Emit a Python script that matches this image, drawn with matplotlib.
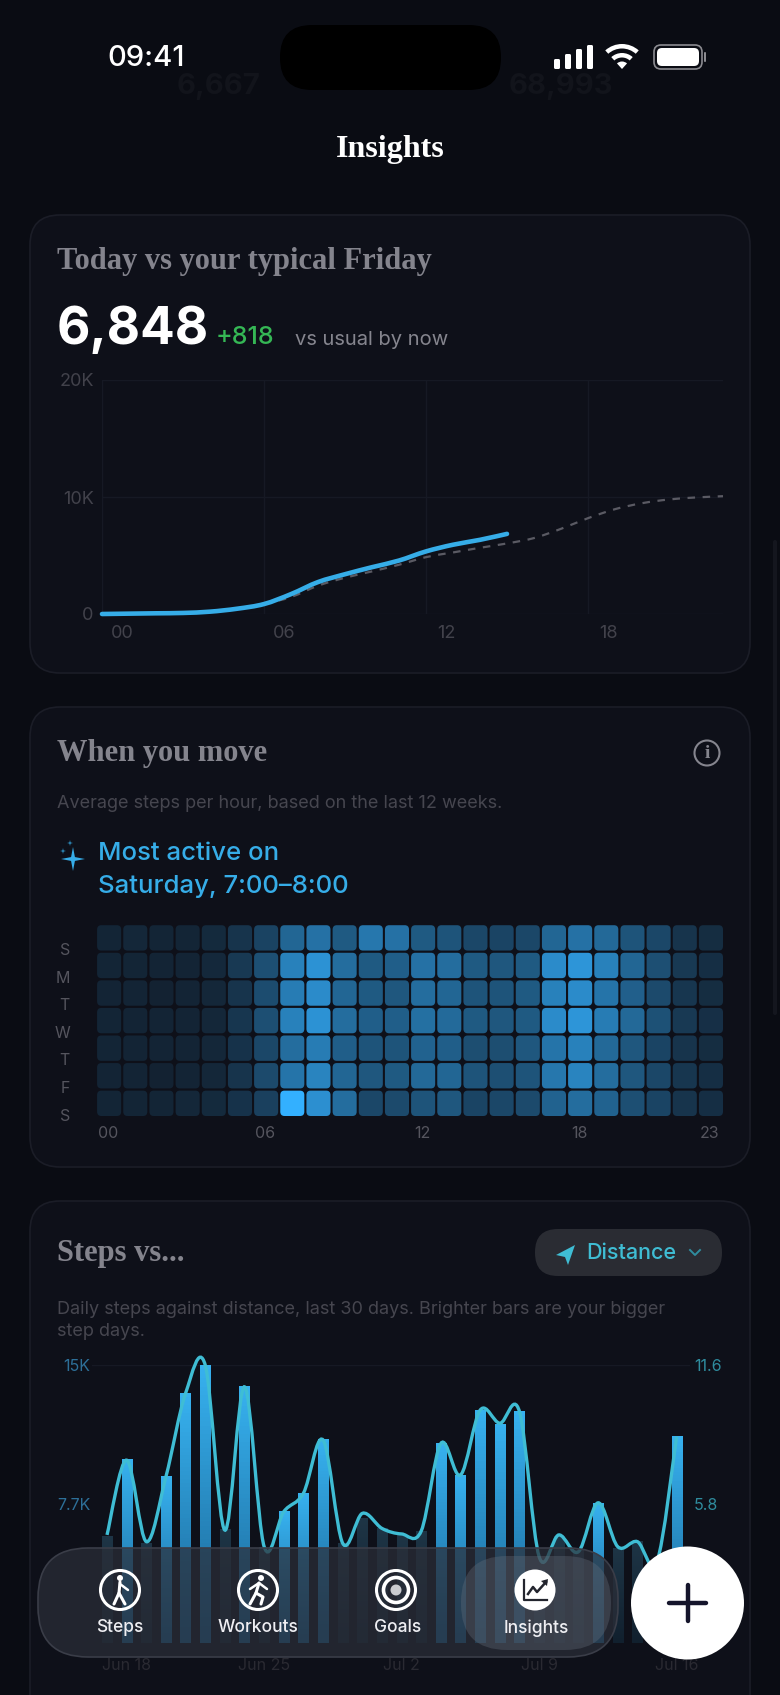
import matplotlib
matplotlib.use('Agg')
import matplotlib.pyplot as plt
import numpy as np
from matplotlib.colors import LinearSegmentedColormap, to_rgb
from matplotlib.patches import Circle, FancyBboxPatch, PathPatch, Polygon, Wedge
from matplotlib.path import Path
from matplotlib.transforms import ScaledTranslation

W, H = 780, 1695
BG = '#0a0c13'
CARD = '#0e1019'
EDGE = '#1b1d27'
BLUE = '#36ade8'
CYAN = '#3fbdd4'
TICK = '#42424b'
SANS = 'Inter'
SERIF = 'Liberation Serif'

# today vs typical friday, steps by hour
today_hours = [0, 1, 2, 3, 4, 5, 6, 7, 8, 9, 10, 11, 12, 13, 14, 15]
today_steps = [0, 30, 60, 90, 200, 450, 850, 1700, 2730, 3400, 4000, 4570, 5350, 5920, 6340, 6848]
typical_hours = [6, 7, 8, 9, 10, 11, 12, 13, 14, 15, 16, 17, 18, 19, 20, 21, 22, 23]
typical_steps = [850, 1450, 2420, 3100, 3640, 4210, 4860, 5260, 5660, 6030, 6490, 7280, 8190, 8960, 9470, 9790, 9960, 10070]
hour_ticks = [0, 6, 12, 18]
hour_labels = ['00', '06', '12', '18']
step_ticks = [0, 10000, 20000]
step_labels = ['0', '10K', '20K']

# heatmap, relative intensity
day_labels = ['S', 'M', 'T', 'W', 'T', 'F', 'S']
heat_sun = [.07, .08, .07, .07, .10, .17, .27, .50, .58, .42, .62, .58, .42, .38, .30, .28, .30, .50, .58, .52, .38, .30, .17, .12]
heat_mon = [.07, .07, .06, .06, .09, .20, .35, .68, .80, .55, .42, .45, .58, .55, .42, .40, .42, .75, .82, .68, .50, .35, .20, .13]
heat_tue = [.06, .06, .05, .06, .08, .17, .33, .65, .75, .50, .42, .40, .55, .50, .38, .38, .42, .68, .75, .60, .46, .32, .18, .12]
heat_wed = [.07, .06, .06, .06, .08, .18, .35, .68, .80, .55, .45, .45, .57, .53, .42, .40, .42, .75, .82, .65, .52, .36, .20, .14]
heat_thu = [.07, .06, .06, .06, .08, .16, .30, .55, .65, .45, .38, .38, .48, .45, .34, .34, .40, .60, .68, .52, .40, .28, .17, .12]
heat_fri = [.06, .06, .05, .06, .08, .17, .32, .60, .70, .50, .40, .42, .52, .50, .38, .35, .38, .62, .70, .55, .40, .30, .18, .13]
heat_sat = [.07, .07, .07, .08, .10, .16, .25, 1.0, .78, .55, .30, .32, .38, .40, .28, .30, .32, .48, .55, .48, .35, .28, .17, .13]
heat_ticks = [0, 6, 12, 18, 23]

# steps vs distance, 30 days
daily_steps = [5.89, 10.14, 5.5, 9.2, 13.83, 15.4, 6.26, 14.2, 5.3, 7.27, 8.29, 11.25, 5.5, 6.9, 6.35,
               5.98, 6.17, 11.06, 9.3, 12.9, 12.08, 12.8, 4.0, 5.89, 5.15, 7.74, 5.24, 5.6, 4.6, 11.43]
daily_km = [4.51, 7.63, 4.23, 6.94, 10.42, 11.6, 4.71, 10.69, 4.02, 5.48, 6.25, 8.47, 4.16, 5.41, 4.78,
            4.55, 4.68, 8.33, 7.01, 9.72, 9.17, 9.65, 3.6, 4.51, 3.81, 5.85, 4.02, 4.23, 3.39, 8.61]
date_ticks = [1, 8, 15, 22, 29]
date_labels = ['Jun 18', 'Jun 25', 'Jul 2', 'Jul 9', 'Jul 16']
nav_items = ['Steps', 'Workouts', 'Goals', 'Insights']


def smooth_path(xs, ys):
    # catmull-rom through the points, as bezier segments
    pts = np.column_stack([xs, ys]).astype(float)
    verts = [pts[0]]
    codes = [Path.MOVETO]
    for i in range(len(pts) - 1):
        p0 = pts[max(i - 1, 0)]
        p1, p2 = pts[i], pts[i + 1]
        p3 = pts[min(i + 2, len(pts) - 1)]
        verts += [p1 + (p2 - p0) / 6, p2 - (p3 - p1) / 6, p2]
        codes += [Path.CURVE4] * 3
    return Path(verts, codes)


def ax_px(left, top, right, bottom, zorder):
    ax = fig.add_axes([left / W, 1 - bottom / H, (right - left) / W, (bottom - top) / H], zorder=zorder)
    ax.patch.set_alpha(0)
    for s in ax.spines.values():
        s.set_visible(False)
    ax.tick_params(length=0)
    return ax


def round_box(ax, x0, y0, x1, y1, r, **kw):
    p = FancyBboxPatch((x0 + r, y0 + r), x1 - x0 - 2 * r, y1 - y0 - 2 * r,
                       boxstyle='round,pad=%f,rounding_size=%f' % (r, r), **kw)
    ax.add_patch(p)
    return p


def txt(ax, x, y, s, size, color, weight='normal', family=SANS, ha='left', **kw):
    return ax.text(x, y, s, fontsize=size, color=color, fontweight=weight, family=family,
                   ha=ha, va='center', **kw)


def star(cx, cy, r, color):
    a = r * 0.16
    return Polygon([(cx, cy - r), (cx + a, cy - a), (cx + r, cy), (cx + a, cy + a),
                    (cx, cy + r), (cx - a, cy + a), (cx - r, cy), (cx - a, cy - a)], color=color, lw=0)


fig = plt.figure(figsize=(W / 100, H / 100), dpi=100, facecolor=BG)

# page layer in pixel coordinates
bg = ax_px(0, 0, W, H, 0)
bg.set_xlim(0, W)
bg.set_ylim(H, 0)
bg.axis('off')

txt(bg, 219, 87, '6,667', 21, '#12141b', 'bold', ha='center')
txt(bg, 561, 87, '68,993', 21, '#12141b', 'bold', ha='center')

round_box(bg, 280, 25, 501, 90, 32, fc='black', ec='none')
txt(bg, 107, 58, '09:41', 21, 'white', 'medium')
for x, h in zip([554, 565, 576, 587], [10, 15, 20, 24]):
    round_box(bg, x, 69 - h, x + 6, 69, 1.5, fc='white', ec='none')
for r, w in [(25, 4.5), (16, 4.5)]:
    bg.add_patch(Wedge((622, 69), r, 228, 312, width=w, fc='white', ec='none'))
bg.add_patch(Wedge((622, 69), 7.5, 228, 312, fc='white', ec='none'))
round_box(bg, 654, 45, 702, 69, 7, fc='none', ec='#8b8b90', lw=1.2)
round_box(bg, 657, 48, 699, 66, 5, fc='white', ec='none')
round_box(bg, 704, 52, 706, 62, 1, fc='#8b8b90', ec='none')

txt(bg, 390, 149, 'Insights', 23, 'white', 'bold', SERIF, ha='center')

# cards
round_box(bg, 30, 215, 750, 673, 30, fc=CARD, ec=EDGE, lw=1.2)
round_box(bg, 30, 707, 750, 1167, 30, fc=CARD, ec=EDGE, lw=1.2)
round_box(bg, 30, 1201, 750, 1760, 30, fc=CARD, ec=EDGE, lw=1.2)
round_box(bg, 773, 540, 777, 1015, 2, fc='#14161e', ec='none')

txt(bg, 57, 261, 'Today vs your typical Friday', 22, '#84848d', 'bold', SERIF)
txt(bg, 57, 330, '6,848', 37, 'white', 'bold')
txt(bg, 216, 338, '+818', 18, '#35b755', 'medium')
txt(bg, 295, 340, 'vs usual by now', 14.5, '#85858e')

txt(bg, 57, 754, 'When you move', 22, '#84848d', 'bold', SERIF)
bg.add_patch(Circle((707, 753), 12.5, fc='none', ec='#85858e', lw=1.5))
txt(bg, 707, 753, 'i', 14, '#85858e', 'bold', SERIF, ha='center')
txt(bg, 57, 804, 'Average steps per hour, based on the last 12 weeks.', 13, '#46464f')
bg.add_patch(star(73, 859, 12, BLUE))
bg.add_patch(star(70, 843, 3, BLUE))
bg.add_patch(star(63, 851, 3, BLUE))
txt(bg, 98, 853, 'Most active on', 18.5, BLUE, 'medium')
txt(bg, 98, 887, 'Saturday, 7:00–8:00', 18.5, BLUE, 'medium')

txt(bg, 57, 1253, 'Steps vs...', 22, '#84848d', 'bold', SERIF)
round_box(bg, 535, 1229, 722, 1276, 23, fc='#2a2c33', ec='none')
bg.add_patch(Polygon([(575, 1245), (556, 1255), (565, 1257), (568, 1265)], color=CYAN, lw=0))
txt(bg, 586, 1253, 'Distance', 15.5, CYAN, 'medium')
bg.plot([690, 695, 700], [1250, 1255, 1250], color='#2f8c9e', lw=1.4)
txt(bg, 57, 1309, 'Daily steps against distance, last 30 days. Brighter bars are your bigger', 13, '#46464f')
txt(bg, 57, 1332, 'step days.', 13, '#46464f')

# chart 1
ax1 = ax_px(102, 380, 723, 614, 2)
ax1.set_xlim(0, 23)
ax1.set_ylim(0, 20000)
ax1.set_xticks(hour_ticks, hour_labels)
ax1.set_yticks(step_ticks, step_labels)
ax1.tick_params(axis='both', labelsize=13, labelcolor=TICK, pad=8, labelfontfamily=SANS)
ax1.tick_params(axis='y', pad=6)
ax1.grid(True, color='#161924', lw=1)
ax1.set_axisbelow(True)
for lab in ax1.get_xticklabels():
    lab.set_transform(lab.get_transform() + ScaledTranslation(0.2, 0, fig.dpi_scale_trans))
ax1.add_patch(PathPatch(smooth_path(typical_hours, typical_steps), fc='none', ec='#5a5a63', lw=1.6,
                        ls=(0, (3.4, 3.4)), clip_on=False))
ax1.add_patch(PathPatch(smooth_path(today_hours, today_steps), fc='none', ec=BLUE, lw=3.3,
                        capstyle='round', clip_on=False))

# chart 2, heatmap
heat = np.array([heat_sun, heat_mon, heat_tue, heat_wed, heat_thu, heat_fri, heat_sat])
cmap = LinearSegmentedColormap.from_list('heat', ['#111b28', '#33b0ff'])
ax2 = ax_px(95, 923, 723, 1116, 2)
ax2.set_xlim(0, 24)
ax2.set_ylim(7, 0)
for row in range(7):
    for col in range(24):
        ax2.add_patch(FancyBboxPatch((col + 0.16, row + 0.16), 0.76, 0.76,
                                     boxstyle='round,pad=0.08,rounding_size=0.16',
                                     fc=cmap(heat[row, col]), ec='none'))
ax2.set_xticks([t + 0.5 for t in heat_ticks], ['%02d' % t for t in heat_ticks])
ax2.set_yticks(np.arange(7) + 0.95, day_labels)
ax2.tick_params(axis='both', labelsize=11.5, labelcolor='#55555e', labelfontfamily=SANS)
ax2.tick_params(axis='x', pad=7)
ax2.tick_params(axis='y', pad=18)

# chart 3
ax3 = ax_px(92, 1365, 690, 1643, 2)
days = np.arange(len(daily_steps))
bars = ax3.bar(days, daily_steps, width=0.52, color='none')
for bar, v in zip(bars, daily_steps):
    top_c, bot_c = ('#37b1ef', '#1a6494') if v >= 7 else ('#1e3546', '#11202e')
    grad = np.linspace(to_rgb(top_c), to_rgb(bot_c), 64)[:, None, :]
    x0 = bar.get_x()
    ax3.imshow(grad, extent=(x0, x0 + bar.get_width(), 0, v), aspect='auto', clip_path=bar, zorder=2)
ax3.set_xlim(-0.764, 29.68)
ax3.set_ylim(0, 15.4)
ax3.set_xticks(date_ticks, date_labels)
ax3.set_yticks([15.4, 7.7], ['15K', '7.7K'])
ax3.tick_params(axis='both', labelsize=11.5, labelfontfamily=SANS)
ax3.tick_params(axis='y', labelcolor='#2d6f98', pad=1)
ax3.tick_params(axis='x', labelcolor='#2a2a32', pad=11)
ax3.axhline(15.4, color='#161924', lw=1, zorder=1)
ax3b = ax3.twinx()
ax3b.set_zorder(3)
ax3b.patch.set_alpha(0)
for s in ax3b.spines.values():
    s.set_visible(False)
ax3b.set_ylim(0, 11.6)
ax3b.set_yticks([11.6, 5.8], ['11.6', '5.8'])
ax3b.tick_params(axis='y', length=0, labelsize=11.5, labelcolor='#2f8c9e', labelfontfamily=SANS, pad=3)
ax3b.add_patch(PathPatch(smooth_path(days, daily_km), fc='none', ec=CYAN, lw=2.4, clip_on=False))

# tab bar on top of everything
top = ax_px(0, 0, W, H, 5)
top.set_xlim(0, W)
top.set_ylim(H, 0)
top.axis('off')
round_box(top, 38, 1548, 618, 1657, 50, fc=(0.17, 0.18, 0.22, 0.72), ec='#3a3d48', lw=1.2)
round_box(top, 461, 1556, 611, 1650, 46, fc=(0.42, 0.45, 0.5, 0.32), ec='none')

centers = [120, 258, 396, 535]
label_x = [120, 258, 398, 536]
for x, name in zip(label_x, nav_items):
    txt(top, x, 1628, name, 12.5, '#eeeef2', 'medium', ha='center')
top.add_patch(Circle((centers[0], 1590), 19.5, fc='none', ec='white', lw=2.2))
top.add_patch(Circle((centers[1], 1590), 19.5, fc='none', ec='white', lw=2.2))
# walker
top.add_patch(Circle((centers[0], 1578), 3, fc='white', ec='none'))
top.plot([120, 119, 114], [1582, 1593, 1604], color='white', lw=2.2, solid_capstyle='round')
top.plot([119, 125], [1593, 1604], color='white', lw=2.2, solid_capstyle='round')
top.plot([120, 128], [1584, 1590], color='white', lw=1.8, solid_capstyle='round')
# runner
top.add_patch(Circle((261, 1578), 3, fc='white', ec='none'))
top.plot([259, 256, 250], [1583, 1593, 1604], color='white', lw=2.2, solid_capstyle='round')
top.plot([256, 263, 261], [1593, 1597, 1604], color='white', lw=2.2, solid_capstyle='round')
top.plot([250, 259, 267], [1589, 1583, 1589], color='white', lw=1.8, solid_capstyle='round')
# goals
top.add_patch(Circle((centers[2], 1590), 19.5, fc='none', ec='white', lw=2.2))
top.add_patch(Circle((centers[2], 1590), 12.5, fc='none', ec='white', lw=2.6))
top.add_patch(Circle((centers[2], 1590), 5.5, fc='#c9cace', ec='none'))
# insights
top.add_patch(Circle((centers[3], 1590), 20.5, fc='white', ec='none'))
top.plot([524, 524, 547], [1580, 1600, 1600], color='#23252e', lw=1.6)
top.plot([528, 533, 537, 546], [1594, 1587, 1592, 1582], color='#23252e', lw=1.8)
top.add_patch(Polygon([(548, 1579), (541, 1581), (547, 1586)], color='#23252e', lw=0))

top.add_patch(Circle((687.5, 1603), 56.5, fc='white', ec='none'))
top.plot([687.5, 687.5], [1585, 1621], color='#15152b', lw=3.2, solid_capstyle='round')
top.plot([669, 706], [1603, 1603], color='#15152b', lw=3.2, solid_capstyle='round')

fig.savefig('out.png', dpi=100, facecolor=BG)
